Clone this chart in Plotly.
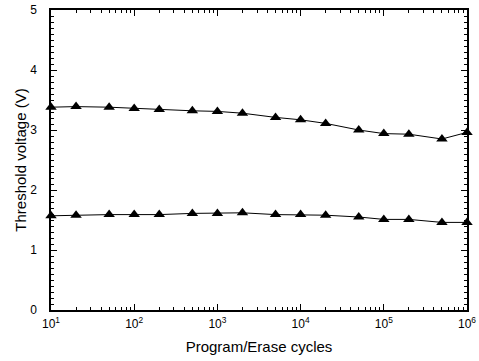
import plotly.graph_objects as go

cycles = [10, 20, 50, 100, 200, 500, 1000, 2000, 5000, 1e4, 2e4, 5e4, 1e5, 2e5, 5e5, 1e6]
vth_programmed = [3.38, 3.39, 3.38, 3.36, 3.34, 3.32, 3.31, 3.28, 3.21, 3.17, 3.11, 3.00, 2.94, 2.93, 2.85, 2.96]
vth_erased = [1.57, 1.58, 1.59, 1.59, 1.59, 1.61, 1.61, 1.62, 1.59, 1.59, 1.58, 1.55, 1.51, 1.51, 1.46, 1.46]

x_tickvals = [10, 100, 1000, 1e4, 1e5, 1e6]
x_ticktext = ["10<sup>1</sup>", "10<sup>2</sup>", "10<sup>3</sup>", "10<sup>4</sup>", "10<sup>5</sup>", "10<sup>6</sup>"]
y_tickvals = [0, 1, 2, 3, 4, 5]

x_minor = [m * 10 ** e for e in range(1, 6) for m in range(2, 10)]
y_minor = [i / 10 for i in range(0, 51) if i % 10]

fig = go.Figure()
for ys in (vth_programmed, vth_erased):
    fig.add_trace(go.Scatter(
        x=cycles, y=ys, mode="lines+markers",
        line=dict(color="black", width=1),
        marker=dict(symbol="triangle-up", size=10, color="black"),
        cliponaxis=False, showlegend=False,
    ))

font = dict(family="Liberation Sans, Arial, sans-serif", color="black", size=12)
fig.update_layout(
    width=479, height=361,
    margin=dict(l=51, r=12, t=10, b=51, autoexpand=False),
    paper_bgcolor="white", plot_bgcolor="white",
    font=font,
)
fig.update_xaxes(
    type="log", range=[1, 6], automargin=False,
    tickvals=x_tickvals, ticktext=x_ticktext,
    ticks="inside", ticklen=6, tickcolor="black", tickwidth=1,
    showline=True, linecolor="black", linewidth=1.5, mirror="allticks",
    showgrid=False, zeroline=False, ticklabelstandoff=2,
    minor=dict(ticks="inside", ticklen=3, tickcolor="black", tickvals=x_minor, showgrid=False),
    title=dict(text="Program/Erase cycles", font=dict(size=15), standoff=11),
)
fig.update_yaxes(
    range=[0, 5], tickvals=y_tickvals, automargin=False,
    ticks="inside", ticklen=6, tickcolor="black", tickwidth=1,
    showline=True, linecolor="black", linewidth=1.5, mirror="allticks",
    showgrid=False, zeroline=False, ticklabelstandoff=10,
    minor=dict(ticks="inside", ticklen=3, tickcolor="black", tickvals=y_minor, showgrid=False),
    title=dict(text="Threshold voltage (V)", font=dict(size=15), standoff=0),
)
fig.write_html(
    "out.html",
    config={"displayModeBar": False},
    post_script="document.body.style.margin='0';document.body.style.overflow='hidden';",
)
